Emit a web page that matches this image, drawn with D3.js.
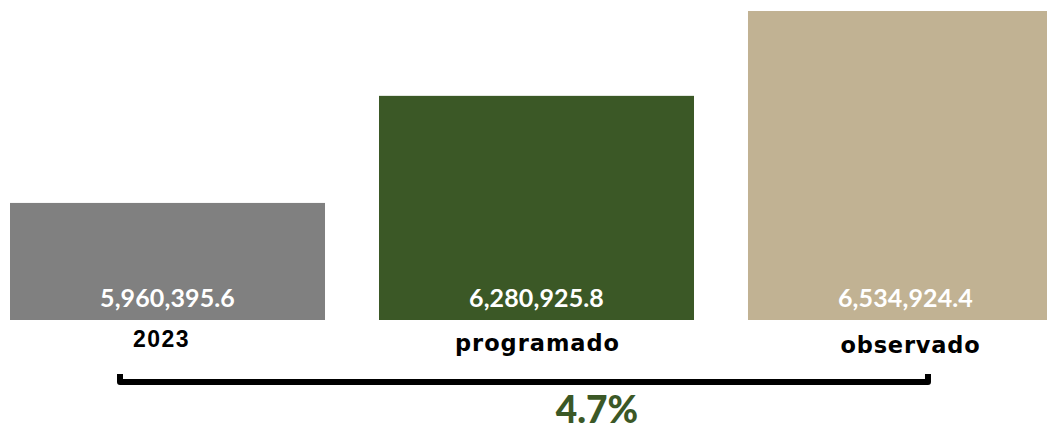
<!DOCTYPE html>
<html><head><meta charset="utf-8">
<script src="https://cdn.jsdelivr.net/npm/d3@7"></script>
<style>
html,body{margin:0;padding:0;background:#fff;}
svg{display:block;}
</style></head>
<body>
<script>
const categories = ["2023", "programado", "observado"];
const values = [5960395.6, 6280925.8, 6534924.4];
const colors = ["#808080", "#3b5826", "#c1b293"];
const changeLabel = "4.7%";
const yDomain = [5610000, 6567850];

const W = 1047, H = 431;
const svg = d3.select("body").append("svg").attr("width", W).attr("height", H);

const x = d3.scaleBand().domain(categories).range([10, 1063]).paddingInner(0.1463).paddingOuter(0);
const y = d3.scaleLinear().domain(yDomain).range([320, 0]);
const fmt = d3.format(",.1f");
const font = "Lato, 'DejaVu Sans', sans-serif";

function fitWidth(sel, target) {
  sel.each(function(d, i) {
    const t = typeof target === "function" ? target(d, i) : target;
    const n = this.getNumberOfChars();
    const w = this.getComputedTextLength();
    if (w < t && n > 1) {
      d3.select(this).attr("letter-spacing", ((t - w) / n).toFixed(2));
    } else if (w > t) {
      const fs = parseFloat(d3.select(this).attr("font-size"));
      d3.select(this).attr("font-size", (fs * t / w).toFixed(2));
    }
  });
}

svg.selectAll("rect.bar").data(values).join("rect")
  .attr("class", "bar")
  .attr("x", (d, i) => x(categories[i]))
  .attr("width", x.bandwidth())
  .attr("y", d => y(d))
  .attr("height", d => y.range()[0] - y(d))
  .attr("fill", (d, i) => colors[i]);

const vals = svg.selectAll("text.val").data(values).join("text")
  .attr("class", "val")
  .attr("x", (d, i) => x(categories[i]) + x.bandwidth() / 2)
  .attr("y", 307)
  .attr("text-anchor", "middle")
  .attr("font-family", font)
  .attr("font-weight", "bold")
  .attr("font-size", 25)
  .attr("fill", "#fff")
  .text(d => fmt(d));
fitWidth(vals, 135);

const labelDx = [-6, 1, 5];
const labelY = [347, 351, 353];
const labelW = [57, 165, 140];
const cats = svg.selectAll("text.cat").data(categories).join("text")
  .attr("class", "cat")
  .attr("x", (d, i) => x(d) + x.bandwidth() / 2 + labelDx[i])
  .attr("y", (d, i) => labelY[i])
  .attr("text-anchor", "middle")
  .attr("font-family", (d, i) => i === 0 ? "'Liberation Sans', Arial, sans-serif" : "'DejaVu Sans', sans-serif")
  .attr("font-weight", "bold")
  .attr("font-size", (d, i) => i === 0 ? 23 : 22.5)
  .attr("fill", "#000")
  .text(d => d);
fitWidth(cats, (d, i) => labelW[i]);

// bracket
const bx0 = x(categories[0]) + 110, bx1 = x(categories[2]) + 180, by = 382;
svg.append("path")
  .attr("d", `M${bx0},374 L${bx0},${by} L${bx1},${by} L${bx1},374`)
  .attr("fill", "none")
  .attr("stroke", "#000")
  .attr("stroke-width", 6)
  .attr("stroke-linejoin", "round");

svg.append("text")
  .attr("x", (bx0 + bx1) / 2 + 73)
  .attr("y", 423)
  .attr("text-anchor", "middle")
  .attr("font-family", font)
  .attr("font-weight", 900)
  .attr("font-size", 37)
  .attr("fill", "#3b5826")
  .text(changeLabel);
</script>
</body></html>
